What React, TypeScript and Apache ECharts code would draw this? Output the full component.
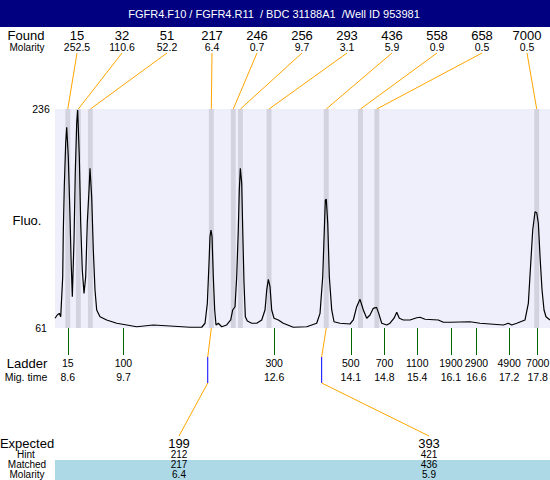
import React, { useEffect, useRef } from "react";
import * as echarts from "echarts";

const TITLE = "FGFR4.F10 / FGFR4.R11  / BDC 31188A1  /Well ID 953981";

const foundSizes = [15, 32, 51, 217, 246, 256, 293, 436, 558, 658, 7000];
const foundMolarity = ["252.5", "110.6", "52.2", "6.4", "0.7", "9.7", "3.1", "5.9", "0.9", "0.5", "0.5"];
const foundTimes = [8.6, 8.807, 9.042, 11.41, 11.84, 11.98, 12.54, 13.66, 14.33, 14.65, 17.78];

const ladderSizes = [15, 100, 300, 500, 700, 1100, 1900, 2900, 4900, 7000];
const ladderTimes = [8.6, 9.69, 12.64, 14.14, 14.8, 15.44, 16.1, 16.6, 17.24, 17.8];

const expectedSizes = [199, 393];
const hintSizes = [212, 421];
const matchedSizes = [217, 436];
const matchedMolarity = ["6.4", "5.9"];
const expectedTimes = [11.34, 13.57];

const traceTime = [
  8.350, 8.395, 8.434, 8.462, 8.501, 8.512, 8.532, 8.559, 8.579, 8.610,
  8.644, 8.663, 8.689, 8.722, 8.747, 8.775, 8.794, 8.826, 8.853, 8.884,
  8.918, 8.951, 8.982, 9.016, 9.035, 9.068, 9.100, 9.133, 9.166, 9.231,
  9.362, 9.558, 9.754, 9.949, 10.274, 10.601, 10.993, 11.222, 11.287, 11.332,
  11.365, 11.384, 11.404, 11.424, 11.449, 11.476, 11.502, 11.547, 11.613, 11.711,
  11.790, 11.829, 11.874, 11.907, 11.938, 11.958, 11.978, 12.005, 12.025, 12.050,
  12.076, 12.115, 12.201, 12.299, 12.397, 12.461, 12.495, 12.526, 12.559, 12.592,
  12.637, 12.722, 12.819, 13.015, 13.278, 13.473, 13.538, 13.591, 13.622, 13.642,
  13.661, 13.689, 13.720, 13.767, 13.812, 13.929, 14.125, 14.190, 14.256, 14.321,
  14.386, 14.452, 14.517, 14.581, 14.644, 14.687, 14.746, 14.844, 14.908, 14.987,
  15.040, 15.090, 15.169, 15.300, 15.431, 15.496, 15.594, 15.854, 15.952, 16.083,
  16.475, 16.670, 16.931, 17.127, 17.224, 17.291, 17.389, 17.551, 17.616, 17.663,
  17.702, 17.747, 17.780, 17.812, 17.845, 17.884, 17.923, 17.962, 18.040,
];
const traceFluo = [
  68.8, 71.4, 72.7, 70.0, 102.0, 136.9, 173.9, 208.6, 221.4, 197.9,
  149.9, 118.0, 86.0, 131.3, 184.9, 224.8, 235.2, 197.9, 144.9, 107.3,
  88.7, 102.0, 144.9, 171.3, 188.6, 165.9, 123.3, 91.4, 75.4, 70.0,
  67.4, 64.8, 63.4, 62.0, 63.4, 62.6, 61.6, 61.6, 64.8, 80.7,
  112.9, 134.0, 139.3, 134.0, 102.0, 75.4, 63.4, 64.8, 62.0, 63.4,
  67.4, 75.4, 78.0, 102.0, 139.3, 171.3, 188.6, 176.6, 139.3, 97.0,
  70.0, 66.6, 64.8, 64.8, 67.4, 75.4, 91.4, 99.9, 94.0, 75.4,
  68.8, 67.4, 64.8, 61.6, 62.0, 64.8, 72.7, 102.0, 139.3, 163.3,
  163.8, 144.7, 102.0, 75.4, 66.0, 64.8, 64.2, 67.4, 78.0, 83.9,
  75.4, 68.8, 71.4, 76.7, 77.5, 72.7, 64.8, 63.4, 64.8, 68.8,
  73.5, 68.8, 67.4, 67.4, 69.2, 69.6, 68.0, 67.4, 65.6, 65.6,
  66.0, 64.8, 64.0, 63.4, 64.8, 63.4, 64.8, 67.4, 80.7, 112.7,
  139.3, 153.9, 153.1, 144.7, 118.0, 91.4, 75.4, 70.0, 67.4,
];

const Y_MIN = 61;
const Y_MAX = 236;
const X_MIN = 8.35;
const X_MAX = 18.04;
const BAND_HALF = 0.048;

const FONT = "'Liberation Sans', Arial, Helvetica, sans-serif";
const ORANGE = "#FFA500";
const BLUE = "#0000FF";

function txt(text: string, x: number, y: number, size: number, fill = "#000", align = "center") {
  return {
    type: "text",
    x,
    y,
    silent: true,
    z: 10,
    style: {
      text,
      fill,
      font: `${size}px ${FONT}`,
      textAlign: align,
      textVerticalAlign: "middle",
      align,
      verticalAlign: "middle",
    },
  };
}

function seg(x1: number, y1: number, x2: number, y2: number, color: string) {
  return {
    type: "line",
    silent: true,
    z: 5,
    shape: { x1, y1, x2, y2 },
    style: { stroke: color, lineWidth: 1 },
  };
}

export default function App() {
  const ref = useRef<HTMLDivElement>(null);

  useEffect(() => {
    const el = ref.current;
    if (!el) return;
    const chart = echarts.init(el, null, { renderer: "svg" });
    const trace = traceTime.map((t, i) => [t, traceFluo[i]]);
    const bands = foundTimes.map((t) => [{ xAxis: t - BAND_HALF }, { xAxis: t + BAND_HALF }]);

    chart.setOption({
      animation: false,
      grid: {
        left: 55,
        right: 0,
        top: 109,
        bottom: 152,
        show: true,
        backgroundColor: "#EFEFFC",
        borderWidth: 0,
        outerBoundsMode: "none",
      },
      xAxis: {
        type: "value",
        min: X_MIN,
        max: X_MAX,
        splitLine: { show: false },
        axisLine: { show: false },
        axisTick: {
          show: true,
          customValues: ladderTimes,
          length: 27,
          lineStyle: { color: "#006400", width: 1 },
        },
        axisLabel: {
          show: true,
          customValues: ladderTimes,
          margin: 28,
          hideOverlap: false,
          fontSize: 10.5,
          lineHeight: 14,
          color: "#000",
          fontFamily: FONT,
          formatter: (v: number) => {
            const i = ladderTimes.findIndex((t) => Math.abs(t - v) < 1e-6);
            return i >= 0 ? `${ladderSizes[i]}\n${v.toFixed(1)}` : "";
          },
        },
      },
      yAxis: {
        type: "value",
        min: Y_MIN,
        max: Y_MAX,
        splitLine: { show: false },
        axisLine: { show: false },
        axisTick: { show: false },
        axisLabel: {
          show: true,
          customValues: [Y_MIN, Y_MAX],
          align: "center",
          margin: 14,
          fontSize: 10.5,
          color: "#000",
          fontFamily: FONT,
        },
      },
      series: [
        {
          type: "line",
          data: trace,
          z: 1,
          showSymbol: false,
          silent: true,
          lineStyle: { width: 0, opacity: 0 },
          markArea: {
            silent: true,
            itemStyle: { color: "#D3D3E0" },
            data: bands,
          },
        },
        {
          type: "line",
          data: trace,
          z: 3,
          showSymbol: false,
          silent: true,
          smooth: false,
          lineStyle: { color: "#000", width: 1.2 },
        },
      ],
    });

    const px = (t: number) => chart.convertToPixel({ xAxisIndex: 0 }, t) as number;
    const py = (v: number) => chart.convertToPixel({ yAxisIndex: 0 }, v) as number;
    const top = py(Y_MAX);
    const bottom = py(Y_MIN);

    const g: any[] = [];
    g.push({ type: "rect", silent: true, z: 1, shape: { x: 0, y: 0, width: 550, height: 27 }, style: { fill: "#000080" } });
    g.push(txt(TITLE, 274, 14, 11, "#FFFFFF"));

    g.push(txt("Found", 26, 35, 13));
    g.push(txt("Molarity", 27, 47, 10));
    g.push(txt("Fluo.", 27, 220, 13));
    g.push(txt("Ladder", 27, 363, 13));
    g.push(txt("Mig. time", 26, 377, 10.5));

    foundSizes.forEach((s, i) => {
      const cx = 77 + 45 * i;
      g.push(txt(String(s), cx, 35, 13));
      g.push(txt(foundMolarity[i], cx, 47, 10.5));
      g.push(seg(cx, 53, px(foundTimes[i]), top, ORANGE));
    });

    // Expected table
    const expCols = [179, 429];
    const rowY = { exp: 443, hint: 454.5, matched: 464.8, mol: 474.8 };
    g.push({ type: "rect", silent: true, z: 1, shape: { x: 55, y: 460, width: 495, height: 20 }, style: { fill: "#ADD8E6" } });
    g.push(txt("Expected", 27, rowY.exp, 13));
    g.push(txt("Hint", 26, rowY.hint, 10));
    g.push(txt("Matched", 27, rowY.matched, 10));
    g.push(txt("Molarity", 27, rowY.mol, 10));
    expectedSizes.forEach((e, k) => {
      const cx = expCols[k];
      g.push(txt(String(e), cx, rowY.exp, 13));
      g.push(txt(String(hintSizes[k]), cx, rowY.hint, 10));
      g.push(txt(String(matchedSizes[k]), cx, rowY.matched, 10));
      g.push(txt(matchedMolarity[k], cx, rowY.mol, 10));
      const idx = foundSizes.indexOf(matchedSizes[k]);
      const fx = px(foundTimes[idx]);
      const ex = px(expectedTimes[k]);
      g.push(seg(fx, bottom, ex, 357, ORANGE));
      g.push(seg(ex, 357, ex, 383, BLUE));
      g.push(seg(ex, 383, cx, 436, ORANGE));
    });

    chart.setOption({ graphic: g });

    return () => {
      chart.dispose();
    };
  }, []);

  return (
    <div
      ref={ref}
      style={{ position: "fixed", left: 0, top: 0, width: 550, height: 480, background: "#fff" }}
    />
  );
}
